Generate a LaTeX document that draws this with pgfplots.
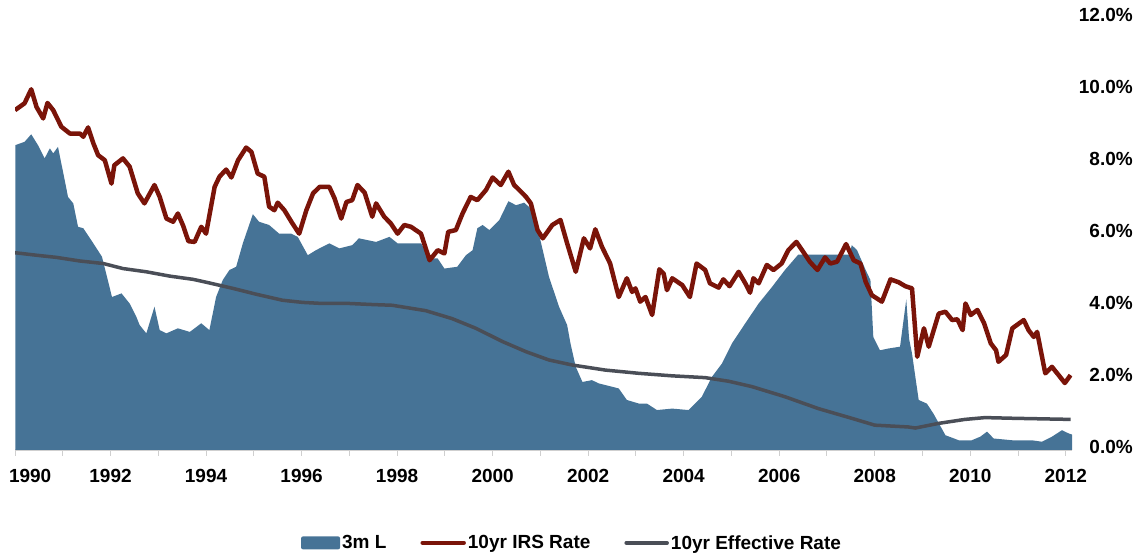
\documentclass[border=0pt]{standalone}
\usepackage{pgfplots}
\pgfplotsset{compat=1.18}
\usepackage{fontspec}
\setmainfont{Liberation Sans}
\definecolor{areablue}{HTML}{467396}
\definecolor{irsred}{HTML}{7A1409}
\definecolor{effgray}{HTML}{4A4E57}
\definecolor{axgray}{HTML}{CFCFCF}
\newcommand{\lblfont}{\fontsize{19}{22}\selectfont\bfseries}
\pgfplotsset{
 lineleg/.style={legend image code/.code={\draw[##1, line cap=round] (0pt,0pt) -- (41pt,0pt);}},
 arealeg/.style={legend image code/.code={\fill[areablue, rounded corners=2pt] (0pt,-6.5pt) rectangle (39pt,6.5pt);}},
}
\begin{document}
\begin{tikzpicture}
\useasboundingbox (0,0) rectangle (1140pt,559pt);
\begin{axis}[
 at={(15pt,109pt)}, anchor=south west,
 width=1057pt, height=432pt, scale only axis,
 xmin=1990, xmax=2012.13, ymin=0, ymax=12,
 axis x line*=bottom, axis y line*=right,
 y axis line style={draw=none},
 x axis line style={draw=axgray, line width=1.2pt, -},
 /pgf/number format/assume math mode=true,
 xtick={1990,1992,...,2012}, minor xtick={1991,1993,...,2011},
 xticklabels={\makebox[0pt][l]{\hspace*{-6pt}1990},1992,1994,1996,1998,2000,2002,2004,2006,2008,2010,2012},
 tick align=outside, major tick length=6pt, minor tick length=6pt,
 xtick style={draw=axgray, line width=1pt},
 ytick={0,2,...,12}, ytick style={draw=none},
 xticklabel style={font=\lblfont, yshift=-10pt},
 yticklabel={\pgfmathprintnumber[fixed,fixed zerofill,precision=1]{\tick}\%},
 yticklabel style={anchor=east, inner sep=0pt, xshift=55pt, yshift=3pt, font=\lblfont},
 legend style={at={(0.527,-0.215)}, anchor=center, draw=none, fill=none,
   legend columns=3, font=\lblfont,
   /tikz/every even column/.append style={column sep=32pt}},
 legend cell align=left,
]
\addplot[fill=areablue, draw=none, arealeg]
coordinates {
(1990.01,8.47) (1990.20,8.56) (1990.34,8.77) (1990.48,8.47) (1990.62,8.10) (1990.73,8.38)
(1990.80,8.24) (1990.90,8.42) (1991.04,7.50) (1991.11,7.03) (1991.22,6.85) (1991.32,6.20)
(1991.43,6.16) (1991.64,5.74) (1991.82,5.37) (1991.96,4.63) (1992.03,4.25) (1992.23,4.35)
(1992.40,4.07) (1992.54,3.70) (1992.61,3.47) (1992.75,3.24) (1992.92,3.98) (1993.03,3.33)
(1993.17,3.24) (1993.41,3.38) (1993.66,3.28) (1993.90,3.52) (1994.07,3.33) (1994.21,4.25)
(1994.35,4.72) (1994.49,5.00) (1994.63,5.09) (1994.77,5.74) (1994.98,6.55) (1995.11,6.34)
(1995.32,6.25) (1995.53,6.01) (1995.78,6.01) (1995.92,5.92) (1996.13,5.41) (1996.30,5.55)
(1996.58,5.74) (1996.79,5.60) (1997.06,5.69) (1997.20,5.88) (1997.56,5.78) (1997.84,5.92)
(1998.01,5.74) (1998.50,5.74) (1998.71,5.32) (1998.85,5.32) (1998.99,5.04) (1999.26,5.09)
(1999.44,5.41) (1999.58,5.55) (1999.68,6.16) (1999.79,6.25) (1999.93,6.11) (2000.14,6.39)
(2000.33,6.91) (2000.49,6.80) (2000.66,6.87) (2000.84,6.66) (2001.00,5.83) (2001.18,4.81)
(2001.39,3.98) (2001.56,3.47) (2001.63,2.96) (2001.74,2.31) (2001.88,1.89) (2002.08,1.94)
(2002.22,1.85) (2002.64,1.71) (2002.81,1.39) (2003.06,1.29) (2003.23,1.29) (2003.44,1.11)
(2003.76,1.15) (2004.10,1.11) (2004.38,1.48) (2004.59,2.03) (2004.80,2.40) (2005.01,2.96)
(2005.29,3.52) (2005.57,4.07) (2005.85,4.53) (2006.12,5.00) (2006.40,5.43) (2007.47,5.43)
(2007.52,5.69) (2007.63,5.55) (2007.81,5.00) (2007.91,4.72) (2007.97,3.14) (2008.11,2.77)
(2008.29,2.82) (2008.53,2.87) (2008.60,3.58) (2008.66,4.18) (2008.72,3.08) (2008.78,2.68)
(2008.92,1.39) (2009.09,1.29) (2009.23,1.01) (2009.48,0.41) (2009.76,0.27) (2010.03,0.27)
(2010.21,0.37) (2010.35,0.51) (2010.49,0.32) (2010.88,0.27) (2011.29,0.27) (2011.50,0.23)
(2011.71,0.37) (2011.92,0.55) (2012.06,0.46) (2012.13,0.43)
} \closedcycle;
\addlegendentry{3m L}
\addplot[irsred, line width=4.5pt, line join=round, lineleg]
coordinates {
(1990.00,9.44) (1990.20,9.63) (1990.34,10.02) (1990.45,9.53) (1990.59,9.21) (1990.68,9.64)
(1990.80,9.44) (1990.97,8.98) (1991.15,8.79) (1991.36,8.79) (1991.43,8.70) (1991.53,8.96)
(1991.64,8.52) (1991.74,8.19) (1991.88,8.05) (1992.02,7.40) (1992.08,7.91) (1992.26,8.10)
(1992.40,7.87) (1992.57,7.13) (1992.71,6.85) (1992.92,7.36) (1993.03,7.03) (1993.17,6.43)
(1993.31,6.34) (1993.41,6.57) (1993.52,6.23) (1993.63,5.80) (1993.76,5.78) (1993.90,6.20)
(1994.00,6.01) (1994.18,7.31) (1994.28,7.59) (1994.42,7.79) (1994.53,7.57) (1994.67,8.05)
(1994.84,8.40) (1994.95,8.28) (1995.08,7.68) (1995.22,7.59) (1995.32,6.76) (1995.43,6.66)
(1995.50,6.87) (1995.64,6.66) (1995.81,6.29) (1995.95,6.01) (1996.10,6.66) (1996.24,7.13)
(1996.38,7.31) (1996.58,7.31) (1996.69,6.99) (1996.83,6.43) (1996.94,6.89) (1997.06,6.94)
(1997.17,7.36) (1997.32,7.15) (1997.48,6.48) (1997.56,6.85) (1997.73,6.48) (1997.87,6.29)
(1998.01,6.01) (1998.15,6.25) (1998.29,6.20) (1998.50,6.01) (1998.68,5.27) (1998.85,5.55)
(1998.99,5.46) (1999.07,6.06) (1999.23,6.11) (1999.37,6.57) (1999.54,7.03) (1999.68,6.94)
(1999.86,7.22) (2000.00,7.57) (2000.17,7.36) (2000.33,7.73) (2000.45,7.36) (2000.56,7.22)
(2000.70,7.03) (2000.80,6.85) (2000.94,6.11) (2001.05,5.88) (2001.25,6.25) (2001.42,6.39)
(2001.56,5.74) (2001.74,4.95) (2001.91,5.88) (2002.04,5.60) (2002.15,6.13) (2002.29,5.64)
(2002.46,5.18) (2002.64,4.25) (2002.81,4.77) (2002.92,4.39) (2002.99,4.49) (2003.09,4.12)
(2003.20,4.25) (2003.34,3.75) (2003.49,5.02) (2003.58,4.90) (2003.65,4.44) (2003.76,4.77)
(2003.97,4.58) (2004.13,4.25) (2004.27,5.18) (2004.45,5.00) (2004.55,4.63) (2004.73,4.51)
(2004.83,4.74) (2004.96,4.55) (2005.15,4.95) (2005.29,4.63) (2005.39,4.37) (2005.46,4.77)
(2005.57,4.63) (2005.74,5.14) (2005.88,5.00) (2006.05,5.18) (2006.19,5.55) (2006.36,5.78)
(2006.50,5.51) (2006.64,5.23) (2006.80,5.00) (2006.96,5.35) (2007.07,5.18) (2007.21,5.23)
(2007.40,5.72) (2007.56,5.27) (2007.70,5.18) (2007.81,4.67) (2007.94,4.30) (2008.15,4.12)
(2008.33,4.74) (2008.50,4.66) (2008.64,4.55) (2008.78,4.49) (2008.89,2.59) (2009.03,3.38)
(2009.13,2.87) (2009.34,3.79) (2009.48,3.84) (2009.62,3.61) (2009.73,3.63) (2009.84,3.33)
(2009.90,4.07) (2010.01,3.75) (2010.15,3.89) (2010.29,3.52) (2010.43,2.96) (2010.54,2.77)
(2010.59,2.45) (2010.75,2.64) (2010.88,3.38) (2011.12,3.61) (2011.22,3.33) (2011.33,3.14)
(2011.40,3.28) (2011.57,2.13) (2011.71,2.31) (2011.85,2.08) (2011.98,1.86) (2012.10,2.08)
};
\addlegendentry{10yr IRS Rate}
\addplot[effgray, line width=3.5pt, line join=round, lineleg]
coordinates {
(1990.00,5.48) (1990.45,5.41) (1990.87,5.35) (1991.36,5.25) (1991.85,5.18) (1992.26,5.04)
(1992.75,4.95) (1993.24,4.83) (1993.73,4.74) (1994.07,4.64) (1994.56,4.49) (1995.04,4.33)
(1995.60,4.16) (1996.02,4.10) (1996.44,4.07) (1997.00,4.07) (1997.49,4.04) (1997.90,4.02)
(1998.60,3.87) (1999.15,3.65) (1999.65,3.38) (2000.21,3.01) (2000.70,2.73) (2001.18,2.50)
(2001.67,2.36) (2002.36,2.22) (2003.06,2.13) (2003.76,2.06) (2004.45,2.01) (2004.94,1.91)
(2005.43,1.76) (2006.12,1.48) (2006.82,1.15) (2007.52,0.88) (2008.00,0.69) (2008.70,0.64)
(2008.85,0.61) (2009.34,0.74) (2009.89,0.85) (2010.31,0.90) (2010.93,0.88) (2012.10,0.85)
};
\addlegendentry{10yr Effective Rate}
\end{axis}
\end{tikzpicture}
\end{document}
